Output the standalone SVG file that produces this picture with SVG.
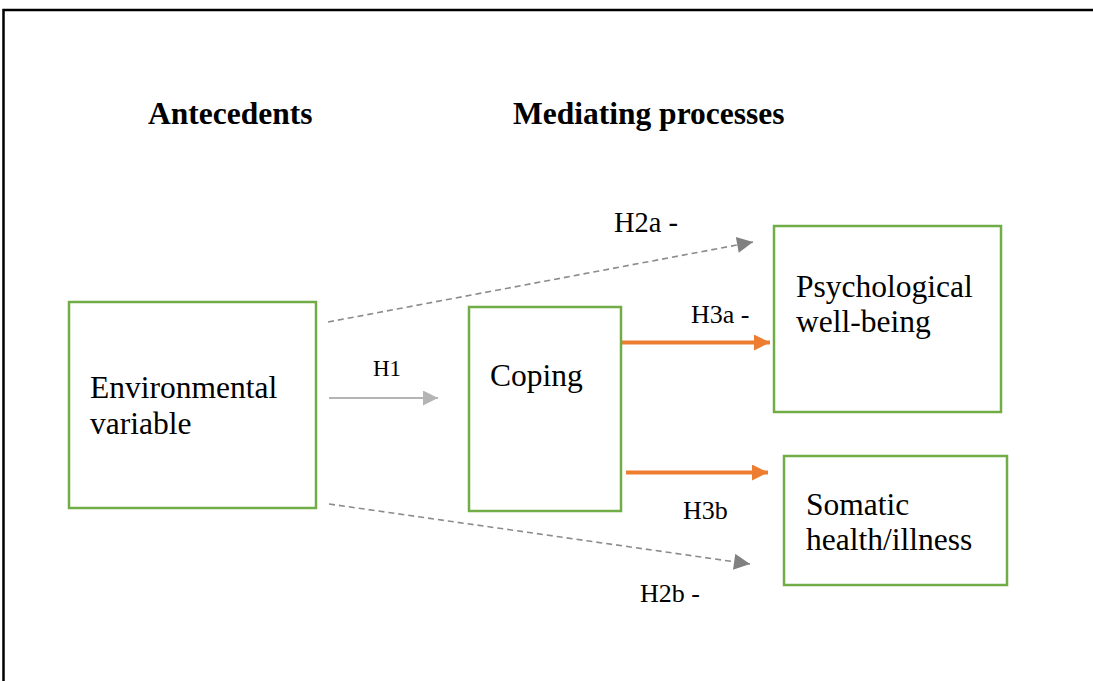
<svg xmlns="http://www.w3.org/2000/svg" width="1093" height="681" viewBox="0 0 1093 681">
<defs>
<style>
.box{fill:#fff;stroke:#70AD47;stroke-width:2.5}
.t{font-family:"Liberation Serif","Times New Roman",serif;font-size:31.5px;fill:#000}
.h{font-family:"Liberation Serif","Times New Roman",serif;font-size:31.5px;font-weight:bold;fill:#000}
.l{font-family:"Liberation Serif","Times New Roman",serif;font-size:26px;fill:#000}
.dash{stroke:#8C8C8C;stroke-width:1.6;stroke-dasharray:6 4;fill:none}
.org{stroke:#ED7D31;stroke-width:4;fill:none}
.gry{stroke:#B4B4B4;stroke-width:1.8;fill:none}
</style>
<marker id="ad" viewBox="0 0 10 10" refX="10" refY="5" markerUnits="userSpaceOnUse" markerWidth="18" markerHeight="16" orient="auto"><path d="M0,0 L10,5 L0,10 z" fill="#808080"/></marker>
<marker id="ao" viewBox="0 0 10 10" refX="10" refY="5" markerUnits="userSpaceOnUse" markerWidth="16" markerHeight="16" orient="auto"><path d="M0,0 L10,5 L0,10 z" fill="#ED7D31"/></marker>
<marker id="ag" viewBox="0 0 10 10" refX="10" refY="5" markerUnits="userSpaceOnUse" markerWidth="16" markerHeight="15" orient="auto"><path d="M0,0 L10,5 L0,10 z" fill="#B4B4B4"/></marker>
</defs>
<rect x="0" y="0" width="1093" height="681" fill="#fff"/>
<path d="M3.5,681 V10 H1093" fill="none" stroke="#000" stroke-width="2.5"/>
<text class="h" x="148" y="124">Antecedents</text>
<text class="h" x="513" y="124">Mediating processes</text>
<g id="connectors">
<line class="dash" x1="328" y1="322" x2="753" y2="242" marker-end="url(#ad)"/>
<line class="dash" x1="329" y1="504" x2="750" y2="564" marker-end="url(#ad)"/>
<line class="gry" x1="329" y1="398" x2="438" y2="398" marker-end="url(#ag)"/>
<line class="org" x1="622" y1="342.5" x2="770" y2="342.5" marker-end="url(#ao)"/>
<line class="org" x1="626" y1="472.5" x2="768" y2="472.5" marker-end="url(#ao)"/>
<text class="l" x="614" y="232" style="font-size:28.5px">H2a -</text>
<text class="l" x="691" y="323">H3a -</text>
<text class="l" x="373" y="376" style="font-size:23px">H1</text>
<text class="l" x="683" y="519">H3b</text>
<text class="l" x="640" y="602">H2b -</text>
</g>
<g id="env">
<rect class="box" x="69" y="302" width="247" height="206"/>
<text class="t" x="90" y="398">Environmental</text>
<text class="t" x="90" y="434">variable</text>
</g>
<g id="coping">
<rect class="box" x="469" y="307" width="152" height="204"/>
<text class="t" x="490" y="386">Coping</text>
</g>
<g id="psych">
<rect class="box" x="774" y="226" width="227" height="186"/>
<text class="t" x="796" y="297">Psychological</text>
<text class="t" x="796" y="332">well-being</text>
</g>
<g id="somatic">
<rect class="box" x="784" y="456" width="223" height="129"/>
<text class="t" x="806" y="515">Somatic</text>
<text class="t" x="806" y="550">health/illness</text>
</g>
</svg>
